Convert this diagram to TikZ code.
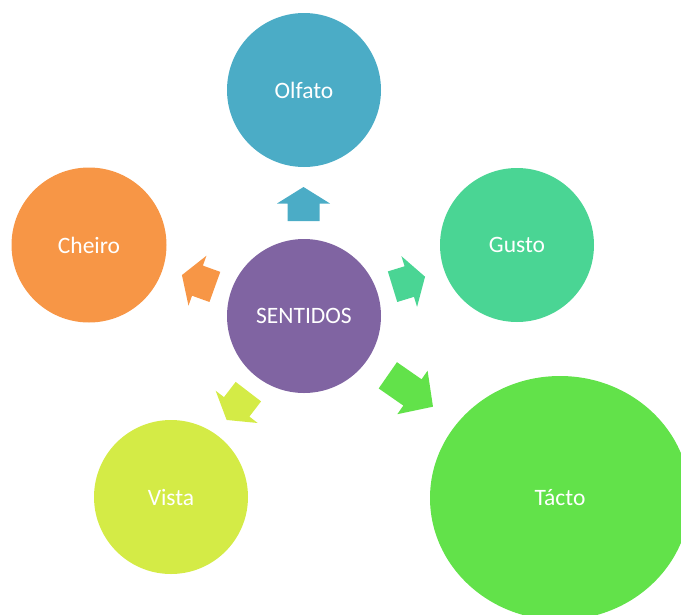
\documentclass[tikz,border=0pt]{standalone}
\usepackage{fontspec}
\usetikzlibrary{shapes.geometric}
\setmainfont{Carlito}
\definecolor{colOlf}{HTML}{4BACC6}
\definecolor{colChe}{HTML}{F79646}
\definecolor{colGus}{HTML}{4AD594}
\definecolor{colSen}{HTML}{8064A2}
\definecolor{colVis}{HTML}{D4EB46}
\definecolor{colTac}{HTML}{62E24A}
% block arrow: #1 centre, #2 angle, #3 length, #4 head length, #5 colour
\newcommand{\blkarrow}[5]{%
  \fill[#5, shift={#1}, rotate=#2]
    ({-#3/2*1pt},-16pt) -- ({(#3/2-#4)*1pt},-16pt) -- ({(#3/2-#4)*1pt},-26.5pt)
    -- ({#3/2*1pt},0pt) -- ({(#3/2-#4)*1pt},26.5pt) -- ({(#3/2-#4)*1pt},16pt)
    -- ({-#3/2*1pt},16pt) -- cycle;}
\begin{document}
\begin{tikzpicture}[x=1pt,y=-1pt,
  sense/.style={circle, draw=none, inner sep=0pt, text=white,
    font=\fontsize{23.5}{28}\selectfont}]
\useasboundingbox (0,0) rectangle (681,614);
\clip (0,0) rectangle (681,614);
\node[sense, fill=colOlf, minimum size=154pt] (olf) at (304,90) {Olfato};
\node[sense, fill=colChe, minimum size=155pt] (che) at (89,245) {Cheiro};
\node[sense, fill=colGus, minimum size=154pt] (gus) at (517,245) {Gusto};
\node[sense, fill=colSen, minimum size=154pt] (sen) at (304,316) {SENTIDOS};
\node[sense, fill=colVis, minimum size=154pt] (vis) at (171,497) {Vista};
\node[sense, ellipse, fill=colTac, minimum width=260pt, minimum height=244pt] (tac) at (560,498) {Tácto};
\coordinate (aOlf) at (303.5,204);
\coordinate (aChe) at (198.4,281);
\coordinate (aGus) at (408.8,281.7);
\coordinate (aTac) at (410.4,391);
\coordinate (aVis) at (237.5,405.8);
\blkarrow{(aOlf)}{90}{34}{16.5}{colOlf}
\blkarrow{(aChe)}{160.2}{35}{16.5}{colChe}
\blkarrow{(aGus)}{17.1}{34}{16.5}{colGus}
\blkarrow{(aTac)}{-34.8}{55}{25}{colTac}
\blkarrow{(aVis)}{232.5}{35.7}{16.5}{colVis}
\end{tikzpicture}
\end{document}
